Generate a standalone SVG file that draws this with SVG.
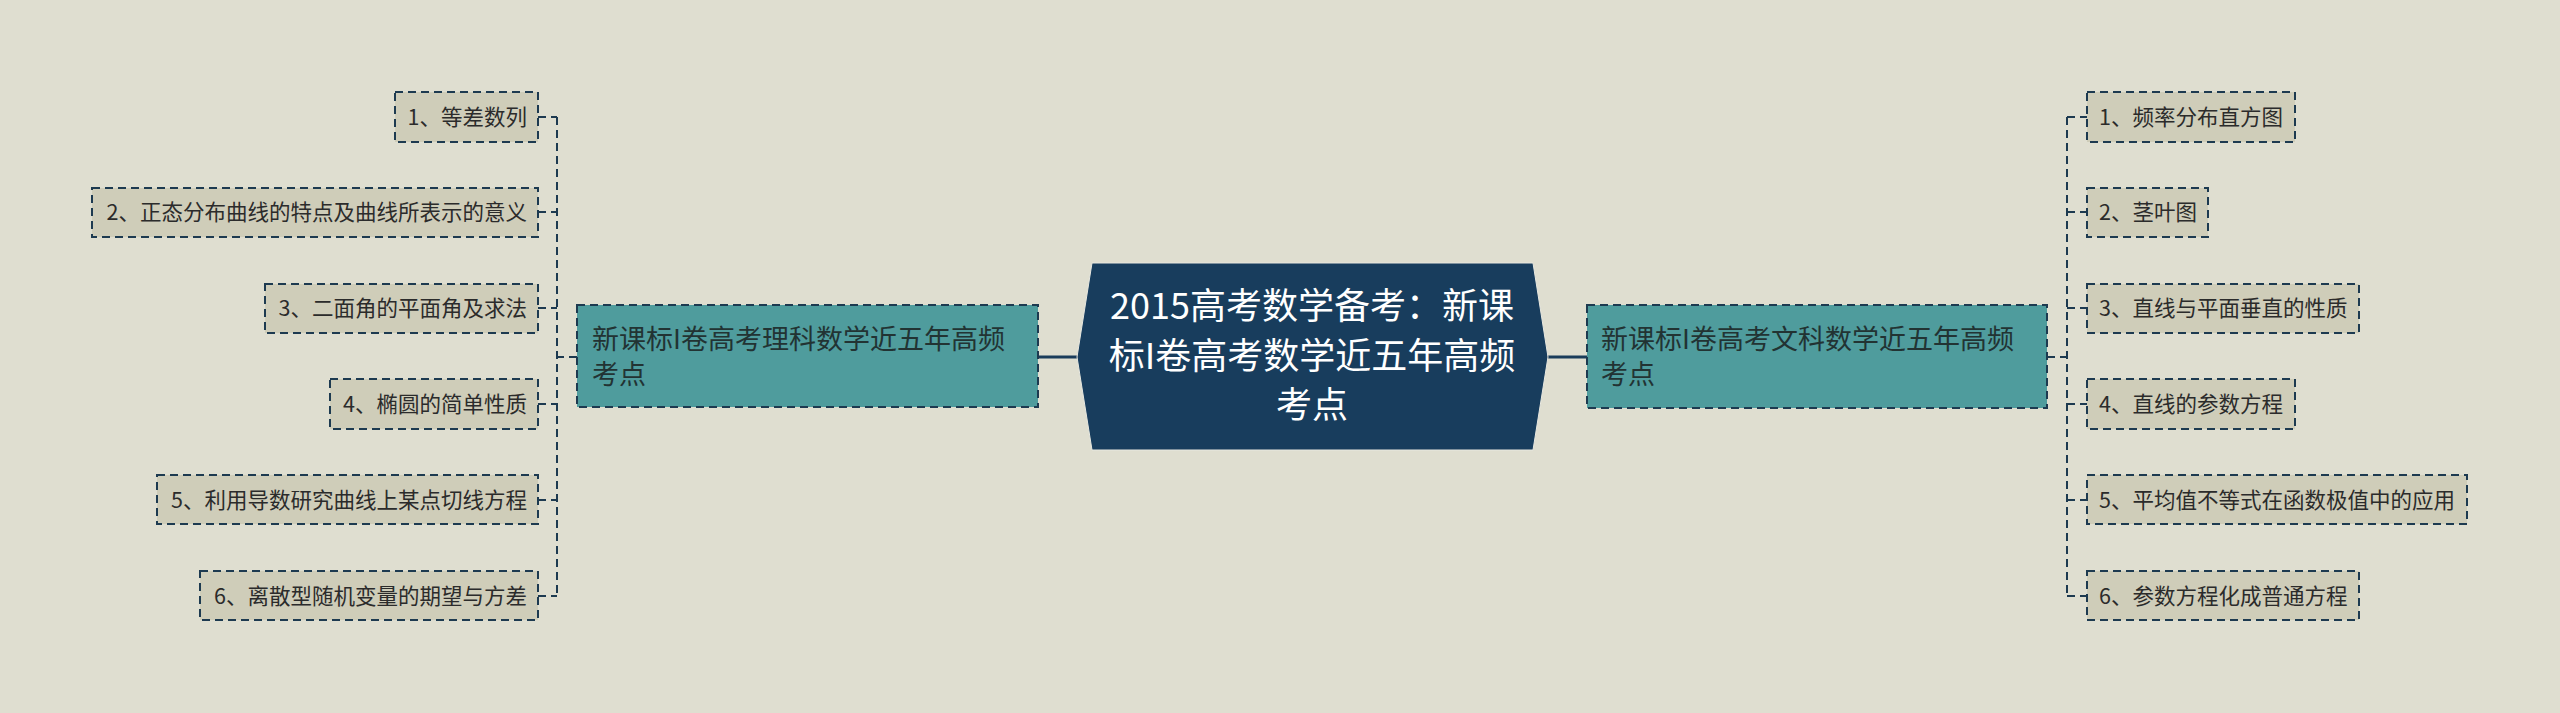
<svg xmlns="http://www.w3.org/2000/svg" width="2560" height="713" viewBox="0 0 2560 713">
<style>
text{font-family:"Noto Sans CJK SC","Noto Sans",sans-serif;}
.leaf rect{fill:#CFCDB9;stroke:#1D3A50;stroke-width:2;stroke-dasharray:8 5;}
.leaf text{font-size:21.5px;fill:#2b2b2b;}
.branch rect{fill:#4F9C9D;stroke:#1D3A50;stroke-width:2;stroke-dasharray:8 5;}
.branch text{font-size:27px;fill:#223333;}
.dash{fill:none;stroke:#1D3A50;stroke-width:2;stroke-dasharray:8 5;}
.solid{fill:none;stroke:#1A3C5A;stroke-width:3;}
</style>
<rect x="0" y="0" width="2560" height="713" fill="#DFDED0"/>
<g id="connectors">
<line class="solid" x1="1038" y1="357" x2="1077" y2="357"/>
<line class="solid" x1="1548" y1="357" x2="1587" y2="357"/>
<path class="dash" d="M577 357 H557 M557 117 V596 M538 117 H557 M538 212 H557 M538 308 H557 M538 404 H557 M538 500 H557 M538 596 H557"/>
<path class="dash" d="M2047 357 H2067 M2067 117 V596 M2067 117 H2087 M2067 212 H2087 M2067 308 H2087 M2067 404 H2087 M2067 500 H2087 M2067 596 H2087"/>
</g>
<g id="center">
<polygon points="1092,263 1533,263 1548,357 1533,450 1092,450 1077,357" fill="#183D5D" stroke="#e8e8e0" stroke-width="1"/>
<text x="1312" y="319" text-anchor="middle" font-size="36" fill="#ffffff">2015高考数学备考：新课</text>
<text x="1312" y="369" text-anchor="middle" font-size="36" fill="#ffffff">标I卷高考数学近五年高频</text>
<text x="1312" y="418" text-anchor="middle" font-size="36" fill="#ffffff">考点</text>
</g>
<g id="branch-left" class="branch">
<rect x="577" y="305" width="461" height="102"/>
<text x="592" y="349">新课标I卷高考理科数学近五年高频</text>
<text x="592" y="384">考点</text>
</g>
<g id="branch-right" class="branch">
<rect x="1587" y="305" width="460" height="103"/>
<text x="1601" y="349">新课标I卷高考文科数学近五年高频</text>
<text x="1601" y="384">考点</text>
</g>
<g id="l1" class="leaf"><rect x="395" y="92" width="143" height="50"/><text x="527" y="125" text-anchor="end">1、等差数列</text></g>
<g id="l2" class="leaf"><rect x="92" y="188" width="446" height="49"/><text x="527" y="220" text-anchor="end">2、正态分布曲线的特点及曲线所表示的意义</text></g>
<g id="l3" class="leaf"><rect x="265" y="284" width="273" height="49"/><text x="527" y="316" text-anchor="end">3、二面角的平面角及求法</text></g>
<g id="l4" class="leaf"><rect x="330" y="379" width="208" height="50"/><text x="527" y="412" text-anchor="end">4、椭圆的简单性质</text></g>
<g id="l5" class="leaf"><rect x="157" y="475" width="381" height="49"/><text x="527" y="508" text-anchor="end">5、利用导数研究曲线上某点切线方程</text></g>
<g id="l6" class="leaf"><rect x="200" y="571" width="338" height="49"/><text x="527" y="604" text-anchor="end">6、离散型随机变量的期望与方差</text></g>
<g id="r1" class="leaf"><rect x="2087" y="92" width="208" height="50"/><text x="2099" y="125">1、频率分布直方图</text></g>
<g id="r2" class="leaf"><rect x="2087" y="188" width="121" height="49"/><text x="2099" y="220">2、茎叶图</text></g>
<g id="r3" class="leaf"><rect x="2087" y="284" width="272" height="49"/><text x="2099" y="316">3、直线与平面垂直的性质</text></g>
<g id="r4" class="leaf"><rect x="2087" y="379" width="208" height="50"/><text x="2099" y="412">4、直线的参数方程</text></g>
<g id="r5" class="leaf"><rect x="2087" y="475" width="380" height="49"/><text x="2099" y="508">5、平均值不等式在函数极值中的应用</text></g>
<g id="r6" class="leaf"><rect x="2087" y="571" width="272" height="49"/><text x="2099" y="604">6、参数方程化成普通方程</text></g>
</svg>
